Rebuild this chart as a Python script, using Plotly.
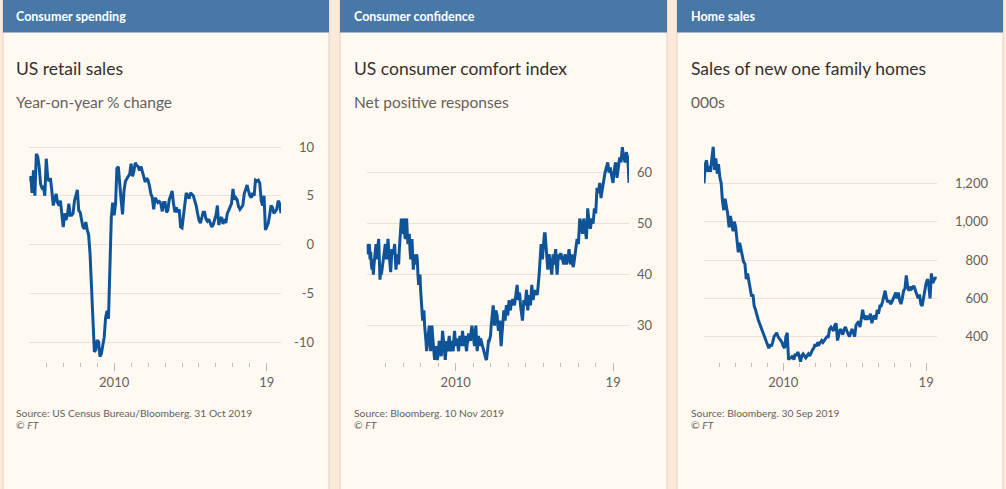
import plotly.graph_objects as go
import pandas as pd

W, H = 1006, 489

# ---------------- data ----------------
retail_values = [
    6.5, 7.0, 5.3, 7.6, 5.0, 9.3, 9.0, 8.0, 6.2, 5.8, 5.9, 5.0,
    8.8, 6.8, 6.5, 6.8, 5.5, 4.0, 4.6, 5.2, 4.3, 4.0, 4.5, 3.0,
    1.8, 3.2, 2.5, 3.0, 4.2, 3.0, 3.0, 3.2, 4.5, 5.0, 5.6, 3.5,
    3.3, 2.5, 1.8, 1.6, 2.3, 1.5, 1.0, -1.0, -4.5, -8.0, -11.0, -10.8,
    -9.8, -10.0, -11.5, -11.2, -10.5, -9.5, -7.5, -6.8, -7.6, -2.0, 2.8, 4.3,
    3.0, 4.2, 7.8, 8.0, 6.0, 4.5, 3.1, 5.5, 6.5, 6.8, 7.0, 7.2,
    8.3, 7.0, 7.5, 8.4, 8.1, 8.0, 7.6, 8.0, 7.4, 7.0, 6.4, 6.8,
    6.6, 6.0, 5.2, 4.8, 3.6, 4.8, 4.5, 4.3, 4.4, 4.2, 3.4, 4.3,
    4.3, 3.3, 3.5, 4.6, 5.0, 5.5, 4.2, 3.3, 3.8, 3.3, 3.6, 1.8,
    1.7, 3.0, 4.5, 5.3, 5.0, 4.7, 5.3, 5.1, 5.0, 4.5, 4.0, 3.2,
    2.5, 2.2, 2.8, 3.3, 3.3, 2.6, 2.4, 2.6, 2.2, 1.8, 2.0, 2.5,
    3.0, 4.0, 2.0, 2.6, 2.8, 2.1, 2.6, 2.2, 3.2, 3.5, 3.8, 4.2,
    5.7, 4.6, 4.8, 4.6, 3.9, 3.6, 3.8, 4.0, 5.2, 5.6, 6.1, 5.5,
    5.0, 4.8, 5.3, 5.0, 6.6, 6.5, 6.6, 6.3, 4.5, 4.0, 5.0, 1.5,
    1.9, 2.2, 3.0, 4.0, 3.8, 3.2, 3.4, 3.6, 4.5, 4.2, 3.2,
]

comfort_values = [
    46, 45, 44, 45.5, 46, 43, 44.5, 42, 41, 43, 40, 42, 44, 45, 46, 43, 44, 45.5, 47, 43,
    39, 41, 40, 41, 42, 43.5, 44, 45, 46, 44, 43, 45, 47, 45, 44, 42, 40.5, 43, 45, 44.5,
    44, 45, 46, 43, 41, 42.5, 44, 43, 42, 45, 48, 50, 51, 49, 48, 50, 51, 48, 47, 50,
    51, 48, 46, 47, 48, 45, 43, 45, 47, 44, 41, 43, 44, 42.5, 42, 44, 43, 40, 38, 39,
    40, 37, 35, 33, 31, 32, 33, 30, 29, 27, 25, 26.5, 28, 29, 30, 27, 25, 28, 30, 28,
    26, 24.5, 23.3, 25, 26, 24, 23.3, 24, 25, 27, 26, 25, 24, 26.5, 29, 27.5, 26, 24.5, 23.3, 25,
    27, 26, 25, 27, 28, 26, 25, 26.5, 27, 26, 25, 27.5, 29, 27, 26, 27.5, 27, 26, 25, 27,
    28, 27, 26, 27.5, 29, 27, 26, 27.5, 28, 26, 25, 26.5, 27, 28.5, 28, 27, 27, 29, 30, 29,
    29, 27, 26, 28.5, 30, 27, 25, 27, 28, 27, 26, 27.5, 27, 26, 26, 25, 25, 24.5, 24, 23.5,
    23.3, 25, 26, 27, 27, 27.5, 28, 30, 31, 33, 34, 32, 30, 32, 33, 32.5, 32, 30, 29, 30.5,
    31, 28, 26, 28, 30, 32, 33, 32, 31, 33, 34, 33, 32, 34, 35, 34, 33, 34.5, 34, 35,
    35, 34.5, 34, 35, 36, 37, 38, 36, 35, 36.5, 36, 34, 33, 32, 31, 33, 35, 34.5, 34, 35.5,
    37, 35, 33, 34.5, 36, 35, 34, 36, 38, 36.5, 35, 36, 37, 36, 37, 36.5, 36, 37, 38, 40,
    42, 44, 46, 44, 43, 45, 47, 48, 48, 46, 44, 42, 41, 43, 44, 43, 42, 41, 40, 42,
    44, 43, 42, 44, 45, 42, 40, 42, 44, 43.5, 43, 44, 44, 43.5, 43, 42.5, 42, 43, 44, 43,
    42, 42.5, 43, 44, 45, 43.5, 42, 43, 44, 42.5, 41.5, 42, 43, 44, 45, 46, 47, 46.5, 46, 48.5,
    51, 50.5, 50, 49, 48, 49.5, 51, 50, 49, 48, 47, 50, 53, 51.5, 50, 49.5, 49, 50, 51, 50.5,
    50, 51.5, 53, 52.5, 52, 54.5, 57, 56.5, 56, 57, 58, 56.5, 55, 56, 57, 58, 59, 59.5, 60, 60.5,
    61, 61.5, 62, 61, 60, 60.5, 61, 60, 59, 58.5, 58, 59.5, 61, 61.5, 62, 60.5, 59, 60, 61, 62,
    63, 62.5, 62, 63.5, 65, 64, 63, 62.5, 62, 63, 64, 63.5, 63, 61, 58,
]

home_sales_values = [
    1200, 1300, 1320, 1260, 1290, 1260, 1330, 1390, 1270, 1330,
    1250, 1300, 1230, 1200, 1110, 1060, 1120, 1080, 1040, 970,
    1030, 990, 950, 1000, 970, 900, 840, 890, 850, 820,
    790, 780, 700, 730, 690, 650, 610, 620, 560, 540,
    510, 490, 470, 450, 430, 410, 390, 370, 350, 340,
    360, 350, 370, 400, 410, 420, 400, 390, 380, 370,
    350, 340, 400, 420, 280, 290, 290, 300, 280, 310,
    300, 320, 300, 270, 300, 310, 300, 290, 300, 310,
    300, 320, 330, 340, 360, 350, 370, 360, 370, 380,
    370, 380, 390, 400, 400, 440, 450, 440, 430, 460,
    470, 380, 420, 440, 430, 410, 440, 450, 430, 410,
    400, 420, 440, 420, 400, 460, 470, 480, 450, 510,
    540, 500, 490, 510, 490, 500, 520, 470, 500, 510,
    490, 540, 520, 560, 560, 580, 620, 640, 600, 580,
    590, 570, 580, 600, 620, 630, 600, 630, 590, 570,
    600, 640, 650, 720, 660, 640, 660, 650, 660, 660,
    640, 620, 600, 620, 570, 560, 600, 650, 680, 700,
    670, 600, 730, 680, 700, 710, 700,
]

retail_dates = pd.date_range("2005-01-01", periods=len(retail_values), freq="MS")
comfort_dates = pd.date_range("2004-12-01", "2019-11-28", periods=len(comfort_values))
home_dates = pd.date_range("2005-01-01", periods=len(home_sales_values), freq="MS")

headers = ["Consumer spending", "Consumer confidence", "Home sales"]
titles = ["US retail sales", "US consumer comfort index", "Sales of new one family homes"]
subtitles = ["Year-on-year % change", "Net positive responses", "000s"]
sources = [
    "Source: US Census Bureau/Bloomberg. 31 Oct 2019",
    "Source: Bloomberg. 10 Nov 2019",
    "Source: Bloomberg. 30 Sep 2019",
]
y_tickvals = [[-10, -5, 0, 5, 10], [30, 40, 50, 60], [400, 600, 800, 1000, 1200]]
y_ticktext = [["-10", "-5", "0", "5", "10"], ["30", "40", "50", "60"],
              ["400", "600", "800", "1,000", "1,200"]]
y_ranges = [[-12.05, 10.72], [22.88, 66.4], [268, 1426]]
x_major_vals = ["2010-01-01", "2019-01-01"]
x_major_text = ["2010", "19"]
x_minor_vals = [f"{y}-01-01" for y in range(2006, 2020)]

series = [(retail_dates, retail_values), (comfort_dates, comfort_values), (home_dates, home_sales_values)]

# ---------------- styling / layout (pixels) ----------------
PAGE_BG = "#fce9d8"
CARD_BG = "#fff9f2"
CARD_BORDER = "#e2d3c6"
HEADER_BG = "#4878a5"
LINE = "#0f5499"
GRID = "#e9e0d7"
TICK = "#c4bab0"
GREY = "#66605c"
DARK = "#33302e"
FONT = "Lato"

cards = [(3, 329), (340, 667), (677, 1003)]
x_domains_px = [(29.3, 281), (366.7, 629), (704, 936.7)]
label_right_px = [311, 649, 985]
text_left_px = [14, 352, 689]
plot_top_px, plot_bottom_px = 140, 362


def px_x(v):
    return v / W


def px_y(v):
    return (H - v) / H


fig = go.Figure()
shapes = []
annotations = []

for i in range(3):
    n = "" if i == 0 else str(i + 1)
    xa, ya = "x" + n, "y" + n
    dates, vals = series[i]
    fig.add_trace(go.Scatter(x=dates, y=vals, mode="lines", xaxis=xa, yaxis=ya,
                             line=dict(color=LINE, width=3), hoverinfo="skip"))

    fig.layout["xaxis" + n] = dict(
        domain=[px_x(x_domains_px[i][0]), px_x(x_domains_px[i][1])],
        range=[dates[0], dates[-1]], anchor=ya, type="date",
        showgrid=False, zeroline=False, showline=False,
        tickmode="array", tickvals=x_major_vals, ticktext=x_major_text,
        ticks="outside", ticklen=8, tickwidth=1, tickcolor=TICK,
        tickfont=dict(family=FONT, size=13, color=GREY),
        minor=dict(tickmode="array", tickvals=x_minor_vals, ticks="outside",
                   ticklen=4, tickwidth=1, tickcolor=TICK, showgrid=False),
        fixedrange=True,
    )
    fig.layout["yaxis" + n] = dict(
        domain=[px_y(plot_bottom_px), px_y(plot_top_px)],
        range=y_ranges[i], side="left", anchor="free",
        position=px_x(label_right_px[i] + 3),
        showgrid=True, gridcolor=GRID, gridwidth=1,
        zeroline=False, showline=False, ticks="",
        tickmode="array", tickvals=y_tickvals[i], ticktext=y_ticktext[i],
        tickfont=dict(family=FONT, size=13, color=GREY),
        fixedrange=True,
    )

    x0, x1 = cards[i]
    shapes.append(dict(type="rect", xref="paper", yref="paper",
                       x0=px_x(x0), x1=px_x(x1), y0=px_y(492), y1=px_y(0),
                       fillcolor=CARD_BG, line=dict(color=CARD_BORDER, width=1), layer="below"))
    shapes.append(dict(type="rect", xref="paper", yref="paper",
                       x0=px_x(x0), x1=px_x(x1), y0=px_y(32.5), y1=px_y(0),
                       fillcolor=HEADER_BG, line=dict(width=0), layer="below"))

    tl = px_x(text_left_px[i])
    annotations += [
        dict(text=f"<b>{headers[i]}</b>", x=tl, y=px_y(17), font=dict(family=FONT, size=12.5, color="white")),
        dict(text=titles[i], x=tl, y=px_y(69), font=dict(family=FONT, size=17.5, color=DARK)),
        dict(text=subtitles[i], x=tl, y=px_y(102), font=dict(family=FONT, size=15.5, color=GREY)),
        dict(text=sources[i], x=tl, y=px_y(413), font=dict(family=FONT, size=10.3, color=GREY)),
        dict(text="© <i>FT</i>", x=tl, y=px_y(425), font=dict(family=FONT, size=10.3, color=GREY)),
    ]

for a in annotations:
    a.update(xref="paper", yref="paper", xanchor="left", yanchor="middle", showarrow=False)

fig.update_layout(
    width=W, height=H, margin=dict(l=0, r=0, t=0, b=0),
    paper_bgcolor=PAGE_BG, plot_bgcolor="rgba(0,0,0,0)",
    showlegend=False, hovermode=False,
    shapes=shapes, annotations=annotations,
    font=dict(family=FONT, color=GREY),
)

fig.write_html(
    "out.html",
    config={"displayModeBar": False},
    post_script="document.body.style.margin='0px';document.body.style.overflow='hidden';",
)
